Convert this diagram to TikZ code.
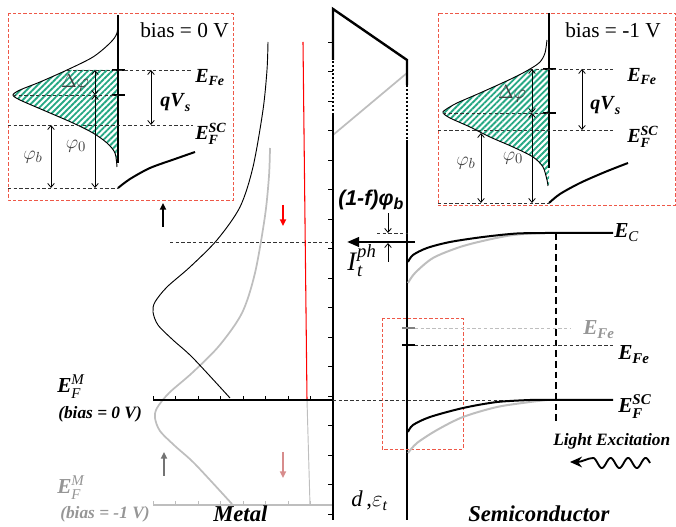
\documentclass[tikz,border=0pt]{standalone}
\usepackage{amsmath}
\usepackage{fontspec}
\setmainfont{Liberation Serif}
\setsansfont{Liberation Sans}
\usetikzlibrary{arrows.meta,patterns.meta}

\definecolor{hatchgreen}{RGB}{38,168,132}
\definecolor{boxred}{RGB}{238,88,72}
\definecolor{paleline}{RGB}{190,190,190}
\definecolor{dimtext}{RGB}{150,150,150}
\definecolor{pinkarrow}{RGB}{215,140,140}

\newcommand{\bfit}[1]{\textbf{\textit{#1}}}

\begin{document}
\begin{tikzpicture}[
  x=0.75pt, y=-0.75pt,
  inset/.style={draw=boxred, dash pattern=on 2.5pt off 1.5pt, line width=0.6pt},
  lvl/.style={dash pattern=on 2.5pt off 1.8pt, line width=0.5pt, black!80},
  wall/.style={line width=2pt},
  barrier/.style={line width=1.8pt},
  notch/.style={line width=1.6pt},
  dos/.style={line width=0.7pt},
  band/.style={line width=1.5pt},
  hatch/.style={pattern={Lines[angle=45,distance=3.2pt,line width=1.4pt]},
                pattern color=hatchgreen},
  gapspan/.style={{Straight Barb[length=3pt,width=5pt]}-{Straight Barb[length=3pt,width=5pt]},
                  line width=0.6pt},
  spinarrow/.style={-{Triangle[length=5pt,width=4.5pt]}, line width=1.6pt},
  elab/.style={font=\fontsize{15}{15}\selectfont, anchor=base west, inner sep=0pt},
  greek/.style={font=\fontsize{15}{15}\selectfont, text=black!75, inner sep=0pt},
  biaslab/.style={font=\fontsize{16}{16}\selectfont, anchor=base west, inner sep=0pt},
  sidelabel/.style={font=\fontsize{17}{17}\selectfont\bfseries\itshape,
                    anchor=base west, inner sep=0pt},
]
  \useasboundingbox (0,0) rectangle (676,527);

  % inset, bias = 0 V
  \draw[inset] (8,13) rectangle (233,200);
  \node[biaslab] (biaszero) at (140,38) {bias = 0 V};
  \fill[hatch] (118,70) -- plot[smooth] coordinates {(67,70) (40,82) (20,90) (13,95)
    (20,100) (43,110) (73,123) (93,133) (107,143) (115,153) (117,163)} -- cycle;
  \draw[dos] plot[smooth] coordinates {(118,18) (117,33) (110,43) (93,57) (67,70)
    (40,82) (20,90) (13,95) (20,100) (43,110) (73,123) (93,133) (107,143)
    (115,153) (117,167)};
  \draw[wall] (118,15) -- (118,163);
  \draw[notch] (112,70) -- (125,70) (112,95) -- (125,95);
  \draw[lvl] (67,70) -- (193,70) (13,95) -- (118,95) (8,125) -- (193,125)
    (8,188) -- (118,188);
  \draw[gapspan] (95,70) -- (95,95);
  \draw[gapspan] (95,95) -- (95,188);
  \draw[gapspan] (151,70) -- (151,125);
  \draw[gapspan] (51,125) -- (51,188);
  \draw[band] plot[smooth] coordinates {(118,188) (130,179) (150,168) (175,159) (195,152)};
  \node[greek] (dphizero) at (75,83) {\(\Delta\varphi\)};
  \node[greek] (phiozero) at (76,146) {\(\varphi_0\)};
  \node[greek] (phibzero) at (33,157) {\(\varphi_b\)};
  \node[elab] (qvzero) at (160,107) {\(\bfit{qV}_{\bfit{s}}\)};
  \node[elab] (efezero) at (195,83) {\(\bfit{E}_{\bfit{Fe}}\)};
  \node[elab] (efsczero) at (195,140) {\(\bfit{E}^{\bfit{SC}}_{\bfit{F}}\)};

  % inset, bias = -1 V
  \draw[inset] (438,13) rectangle (675,205);
  \node[biaslab] (biasneg) at (565,38) {bias = -1 V};
  \fill[hatch] (549,69) -- plot[smooth] coordinates {(530,69) (513,78) (480,93)
    (457,103) (445,110) (443,113) (450,118) (470,127) (490,137) (513,147)
    (533,157) (543,167) (547,180) (548,186)} -- (549,186) -- cycle;
  \draw[dos] plot[smooth] coordinates {(547,40) (545,53) (540,62) (530,69) (513,78)
    (480,93) (457,103) (445,110) (443,113) (450,118) (470,127) (490,137) (513,147)
    (533,157) (543,167) (547,180) (548,186)};
  \draw[wall] (549,13) -- (549,168);
  \draw[notch] (543,69) -- (556,69) (543,113) -- (556,113);
  \draw[lvl] (530,69) -- (613,69) (443,113) -- (549,113) (438,130) -- (613,130)
    (438,203) -- (549,203);
  \draw[gapspan] (532,69) -- (532,113);
  \draw[gapspan] (532,113) -- (532,203);
  \draw[gapspan] (582,69) -- (582,130);
  \draw[gapspan] (481,133) -- (481,203);
  \draw[band] plot[smooth] coordinates {(549,203) (560,194) (580,183) (605,172) (628,163)};
  \node[greek] (dphineg) at (512,94) {\(\Delta\varphi\)};
  \node[greek] (phioneg) at (513,158) {\(\varphi_0\)};
  \node[greek] (phibneg) at (466,163) {\(\varphi_b\)};
  \node[elab] (qvneg) at (590,110) {\(\bfit{qV}_{\bfit{s}}\)};
  \node[elab] (efeneg) at (627,82) {\(\bfit{E}_{\bfit{Fe}}\)};
  \node[elab] (efscneg) at (627,143) {\(\bfit{E}^{\bfit{SC}}_{\bfit{F}}\)};

  % metal side
  \draw[spinarrow] (163,227) -- (163,203);
  \draw[spinarrow, red] (283,205) -- (283,226);
  \draw[spinarrow, pinkarrow] (283,452) -- (283,478);
  \draw[spinarrow, black!55] (164,476) -- (164,452);
  \draw[line width=1.5pt, paleline] (153,505) -- (333,505);
  \foreach \x in {153,175.5,...,312} {
    \draw[line width=0.6pt, paleline] (\x,505) -- (\x,501);
    \draw[line width=0.6pt] (\x,400) -- (\x,396);
  }
  \draw[line width=0.7pt, paleline] (307,400) -- (310,505);
  \draw[line width=0.8pt, red] (303,42) -- (307,400);
  \begin{scope}[shift={(2,106)}]
    \draw[line width=1.3pt, paleline] plot[smooth] coordinates {(268,42) (267,70)
      (263,110) (253,167) (240,207) (217,240) (190,267) (167,287) (155,302)
      (153,312) (158,325) (173,340) (193,358) (230,398)};
  \end{scope}
  \draw[dos] plot[smooth] coordinates {(268,42) (267,70) (263,110) (253,167)
    (240,207) (217,240) (190,267) (167,287) (155,302) (153,312) (158,325)
    (173,340) (193,358) (230,398)};
  \draw[line width=1.5pt] (153,400) -- (333,400);
  \draw[lvl] (170,242) -- (333,242);
  \node[sidelabel] (metal) at (213,522) {Metal};
  \node[anchor=base west, inner sep=0pt, font=\fontsize{16}{16}\selectfont] (efm)
    at (57,393) {\(\bfit{E}^{\textit{M}}_{\textit{F}}\)};
  \node[anchor=base west, inner sep=0pt, font=\fontsize{13}{13}\selectfont\bfseries\itshape]
    (biasm) at (58,419) {(bias = 0 V)};
  \node[anchor=base west, inner sep=0pt, font=\fontsize{16}{16}\selectfont, text=dimtext]
    (efmneg) at (57,494) {\(\bfit{E}^{\textit{M}}_{\textit{F}}\)};
  \node[anchor=base west, inner sep=0pt, font=\fontsize{13}{13}\selectfont\bfseries\itshape,
    text=dimtext] (biasmneg) at (60,519) {(bias = -1 V)};

  % tunnel barrier
  \foreach \y in {42,71.5,...,515}
    \draw[line width=0.7pt] (328,\y) -- (333,\y);
  \draw[line width=1.3pt, paleline] (333,135) -- (407,73);
  \draw[barrier] (333,520) -- (333,115);
  \draw[barrier, dash pattern=on 1.5pt off 1.5pt] (333,115) -- (333,60);
  \draw[barrier] (333,60) -- (333,9) -- (407,60) -- (407,85);
  \draw[barrier, dash pattern=on 1.5pt off 1.5pt] (407,85) -- (407,140);
  \draw[barrier] (407,140) -- (407,520);
  \node[anchor=base west, inner sep=0pt, font=\fontsize{17}{17}\selectfont] (dthick)
    at (351,507) {\textit{d}\,,\(\varepsilon_{\textit{t}}\)};

  % photocurrent
  \draw[lvl] (377,233) -- (408,233);
  \draw[{Straight Barb[length=3pt,width=5pt]}-, line width=0.6pt] (388,233) -- (388,213);
  \draw[{Straight Barb[length=3pt,width=5pt]}-, line width=0.6pt] (388,243) -- (388,262);
  \draw[-{Triangle[length=9pt,width=7pt]}, line width=2pt] (415,242) -- (347,242);
  \node[anchor=base west, inner sep=0pt, font=\fontsize{16}{16}\selectfont\sffamily\bfseries\itshape]
    (fphib) at (338,206) {(1-f)φ\raisebox{-0.35ex}{\fontsize{12}{12}\selectfont b}};
  \node[anchor=base west, inner sep=0pt, font=\fontsize{20}{20}\selectfont] (ith)
    at (347,271) {\textit{I}\(^{\textit{ph}}_{\textit{t}}\)};

  % semiconductor
  \draw[inset] (382,318) rectangle (463,449);
  \draw[line width=1pt, dash pattern=on 5pt off 3pt] (556,233) -- (556,423);
  \draw[band, paleline] plot[smooth] coordinates {(408,283) (415,273) (433,258)
    (460,247) (487,240) (513,235) (540,233)};
  \draw[band] plot[smooth] coordinates {(408,262) (413,255) (427,248) (450,242)
    (483,237) (517,233.5) (550,233)} -- (613,233);
  \node[elab, font=\fontsize{16}{16}\selectfont] (ec) at (614,238) {\(\bfit{E}_{\textit{C}}\)};
  \draw[notch, black!50] (402,328) -- (415,328);
  \draw[lvl, paleline] (415,328) -- (570,328);
  \node[elab, font=\fontsize{16}{16}\selectfont, text=dimtext] (efegray)
    at (583,335) {\(\bfit{E}_{\bfit{Fe}}\)};
  \draw[notch] (402,345) -- (415,345);
  \draw[lvl] (415,345) -- (613,345);
  \node[elab, font=\fontsize{16}{16}\selectfont] (efe) at (618,360) {\(\bfit{E}_{\bfit{Fe}}\)};
  \draw[lvl] (333,400) -- (613,400);
  \draw[band, paleline] plot[smooth] coordinates {(408,453) (417,443) (437,430)
    (463,417) (497,407) (530,402) (547,400)};
  \draw[band] plot[smooth] coordinates {(408,432) (413,425) (430,417) (463,408)
    (497,402) (530,400)} -- (613,400);
  \node[elab, font=\fontsize{16}{16}\selectfont] (efsc) at (618,413)
    {\(\bfit{E}^{\bfit{SC}}_{\bfit{F}}\)};
  \node[anchor=base west, inner sep=0pt, font=\fontsize{13}{13}\selectfont\bfseries\itshape]
    (light) at (553,446) {Light Excitation};
  % light wave
  \draw[line width=1.4pt, -{Stealth[length=9pt,width=8pt]}]
    plot[domain=0:3.25, samples=90, smooth] ({650-17.5*\x},{463-5*sin(\x*360)})
    .. controls (588,458) and (582,462) .. (570,462);
  \node[sidelabel] (semi) at (468,522) {Semiconductor};
\end{tikzpicture}
\end{document}
